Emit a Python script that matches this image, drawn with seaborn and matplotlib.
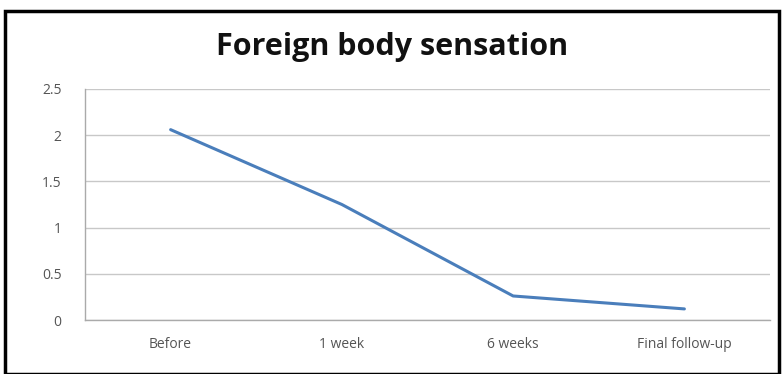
import matplotlib
matplotlib.use("Agg")
import numpy as np
import pandas as pd
import matplotlib.pyplot as plt
import seaborn as sns
from matplotlib.patches import Rectangle

# data
stages = ['Before', '1 week', '6 weeks', 'Final follow-up']
scores = [2.06, 1.25, 0.26, 0.12]
y_ticks = [0, 0.5, 1, 1.5, 2, 2.5]

df = pd.DataFrame({'stage': stages, 'score': scores})

sns.set_style('white')
plt.rcParams['font.family'] = ['Open Sans', 'DejaVu Sans']

fig = plt.figure(figsize=(7.84, 3.74), dpi=100)
ax = fig.add_axes([85 / 784, 1 - 320 / 374, 685 / 784, 231 / 374])

sns.lineplot(data=df, x='stage', y='score', sort=False, color='#4a7ebb',
             linewidth=2.2, ax=ax)

ax.set_xlim(-0.5, len(stages) - 0.5)
ax.set_ylim(0, 2.5)
ax.set_yticks(y_ticks)
ax.set_yticklabels([f'{t:g}' for t in y_ticks])
ax.yaxis.grid(True, color='#c8c8c8', linewidth=1)
ax.set_axisbelow(True)

# category labels centred, tick marks between categories
ax.set_xticks(range(len(stages)))
ax.set_xticklabels(stages)
ax.tick_params(axis='x', length=0, pad=12, labelsize=10, labelcolor='#555555')
ax.set_xticks(np.arange(-0.5, len(stages), 1), minor=True)
ax.tick_params(axis='x', which='minor', length=5, color='#aaaaaa', direction='out')
ax.tick_params(axis='y', length=5, color='#aaaaaa', direction='out', pad=12,
               labelsize=10, labelcolor='#555555')

for s in ['top', 'right']:
    ax.spines[s].set_visible(False)
for s in ['left', 'bottom']:
    ax.spines[s].set_color('#aaaaaa')
    ax.spines[s].set_linewidth(1)
ax.set_xlabel('')
ax.set_ylabel('')

fig.text(0.5, 1 - 47 / 374, 'Foreign body sensation', ha='center', va='center',
         fontsize=22, fontweight='bold', color='#111111')

# outer chart frame
fig.patches.append(Rectangle((5 / 784, 0), 774 / 784, 1 - 11 / 374,
                             transform=fig.transFigure, fill=False,
                             edgecolor='black', linewidth=2.5))

fig.savefig('out.png', dpi=100)
